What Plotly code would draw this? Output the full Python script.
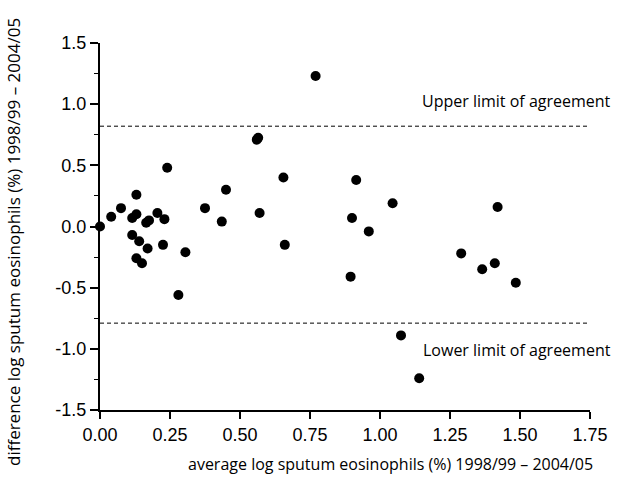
import plotly.graph_objects as go

# Bland-Altman data: average (x) and difference (y) of log sputum eosinophils
avg_vals = [0.00, 0.04, 0.075, 0.115, 0.13, 0.13, 0.165, 0.175, 0.205, 0.23,
            0.24, 0.375, 0.435, 0.45, 0.56, 0.565, 0.57, 0.655, 0.77, 0.915,
            0.90, 1.045, 0.96, 1.42, 0.115, 0.14, 0.17, 0.13, 0.15, 0.225,
            0.305, 0.28, 0.66, 0.895, 1.29, 1.365, 1.41, 1.485, 1.075, 1.14]
diff_vals = [0.00, 0.08, 0.15, 0.07, 0.10, 0.26, 0.03, 0.05, 0.11, 0.06,
             0.48, 0.15, 0.04, 0.30, 0.71, 0.725, 0.11, 0.40, 1.23, 0.38,
             0.07, 0.19, -0.04, 0.16, -0.07, -0.12, -0.18, -0.26, -0.30, -0.15,
             -0.21, -0.56, -0.15, -0.41, -0.22, -0.35, -0.30, -0.46, -0.89, -1.24]

limit_values = [0.82, -0.79]
limit_labels = ["Upper limit of agreement", "Lower limit of agreement"]

x_ticks = [0.00, 0.25, 0.50, 0.75, 1.00, 1.25, 1.50, 1.75]
x_tick_text = ["0.00", "0.25", "0.50", "0.75", "1.00", "1.25", "1.50", "1.75"]
y_ticks = [-1.5, -1.0, -0.5, 0.0, 0.5, 1.0, 1.5]
y_tick_text = ["-1.5", "-1.0", "-0.5", "0.0", "0.5", "1.0", "1.5"]

x_title = "average log sputum eosinophils (%) 1998/99 \u2013 2004/05"
y_title = "difference log sputum eosinophils (%) 1998/99 \u2013 2004/05"

# plot area target: x 100..590, y 43..410
L, T, PW, PH = 100, 43, 490, 367
W, H = 619, 491

fig = go.Figure()
fig.add_trace(go.Scatter(
    x=avg_vals, y=diff_vals, mode="markers",
    marker=dict(color="black", size=10, line=dict(width=0)),
    showlegend=False, cliponaxis=False,
))

for v in limit_values:
    fig.add_shape(type="line", xref="x", yref="y", x0=0, x1=1.75, y0=v, y1=v,
                  line=dict(color="black", width=1, dash="4px,3px"))

label_font = dict(family="Open Sans", size=16, color="black")
fig.add_annotation(x=1.0, xref="paper", xanchor="right", xshift=23,
                   y=limit_values[0], yref="y", yanchor="middle",
                   yshift=25, text=limit_labels[0], showarrow=False, font=label_font)
fig.add_annotation(x=1.0, xref="paper", xanchor="right", xshift=23,
                   y=limit_values[1], yref="y", yanchor="middle",
                   yshift=-27, text=limit_labels[1], showarrow=False, font=label_font)

fig.add_annotation(text=x_title, showarrow=False, font=label_font,
                   x=(595 - L) / PW, xref="paper", xanchor="right",
                   y=-(464 - 410) / PH, yref="paper", yanchor="middle")
fig.add_annotation(text=y_title, showarrow=False,
                   font=dict(family="Open Sans", size=17, color="black"), textangle=-90,
                   x=-(L - 13) / PW, xref="paper", xanchor="center",
                   y=(410 - 242) / PH, yref="paper", yanchor="middle")

tick_font = dict(family="Liberation Sans", size=18, color="black")
fig.update_xaxes(range=[0, 1.75], tickvals=x_ticks, ticktext=x_tick_text,
                 showline=True, linecolor="black", linewidth=2,
                 ticks="outside", ticklen=7, tickwidth=2, tickcolor="black",
                 showgrid=False, zeroline=False, tickfont=tick_font)
fig.update_yaxes(range=[-1.5, 1.5], tickvals=y_ticks, ticktext=y_tick_text,
                 showline=True, linecolor="black", linewidth=2,
                 ticks="outside", ticklen=8, tickwidth=2, tickcolor="black",
                 minor=dict(tickvals=[-1.25, -0.75, -0.25, 0.25, 0.75, 1.25],
                            ticks="outside", ticklen=4, tickwidth=1, tickcolor="black"),
                 showgrid=False, zeroline=False, tickfont=tick_font)

fig.update_layout(width=W, height=H,
                  margin=dict(l=L, r=W - L - PW, t=T, b=H - T - PH, autoexpand=False),
                  plot_bgcolor="white", paper_bgcolor="white")

fig.write_html("out.html", config={"displayModeBar": False},
               post_script="document.body.style.margin='0';document.body.style.overflow='hidden';")
